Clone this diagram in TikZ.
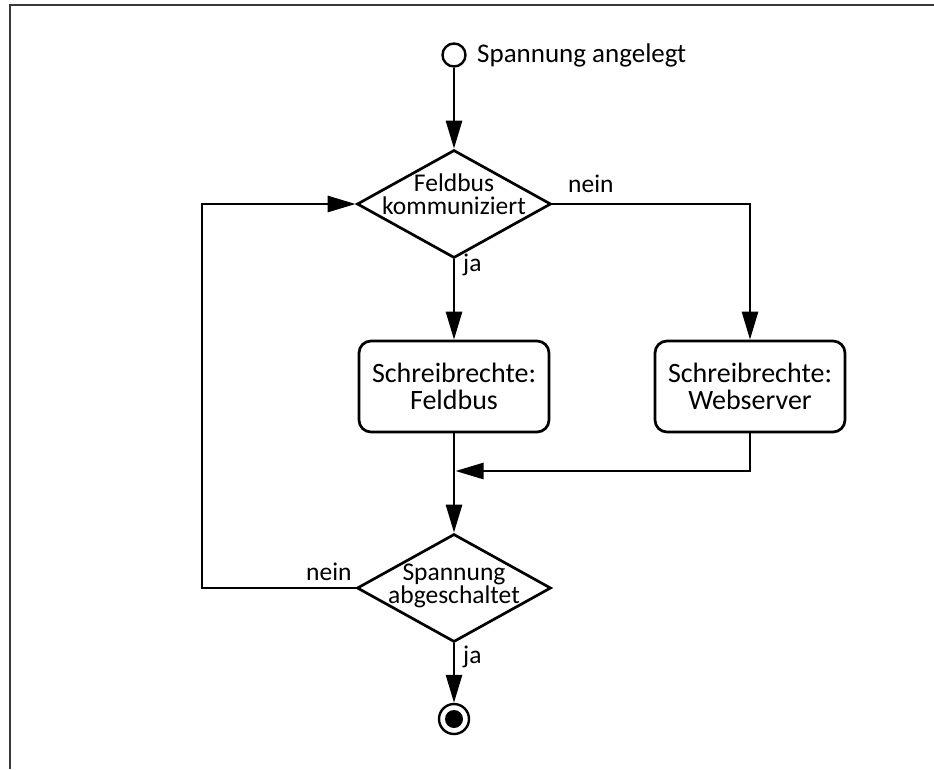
\documentclass[tikz,border=0pt]{standalone}
\usepackage{fontspec}
\setmainfont{Carlito}
\usetikzlibrary{shapes.geometric,arrows.meta}
\begin{document}
\begin{tikzpicture}[x=1pt,y=-1pt,
  conn/.style={line width=2.7pt, -{Triangle[length=28pt,width=16pt]}},
  decision/.style={diamond, draw, line width=2.7pt, minimum width=194pt, minimum height=108pt, inner sep=0pt},
  action/.style={rectangle, rounded corners=12pt, draw, line width=2.7pt, minimum width=190pt, minimum height=91pt, align=center, font=\fontsize{28}{26.5}\selectfont},
  dtext/.style={align=center, inner sep=0pt, font=\fontsize{25.5}{23}\selectfont},
  lbl/.style={inner sep=0pt, font=\fontsize{25.5}{26}\selectfont},
  terminal/.style={circle, draw, line width=2.4pt, inner sep=0pt},
  frameline/.style={line width=1.5pt, draw=black!78}
]
\useasboundingbox (0,0) rectangle (934,769);
\coordinate (fbl) at (10,769);
\coordinate (ftl) at (10,5);
\coordinate (ftr) at (934,5);
\draw[frameline] (fbl) -- (ftl) -- (ftr);

\node[terminal, minimum size=23pt] (start) at (454,55) {};
\node[lbl, anchor=base west, font=\fontsize{27}{30}\selectfont] (startlbl) at (477,62) {Spannung angelegt};
\node[decision] (d1) at (454,204) {};
\node[dtext] (d1t) at (454,194) {Feldbus\\kommuniziert};
\node[action] (b1) at (454,386.5) {Schreibrechte:\\Feldbus};
\node[action] (b2) at (750,386.5) {Schreibrechte:\\Webserver};
\node[decision] (d2) at (454,588) {};
\node[dtext] (d2t) at (454,586) {Spannung\\abgeschaltet};
\node[terminal, minimum size=30pt] (end) at (454,719) {};
\fill (end.center) circle (9pt);

\draw[conn] (start) -- (d1.north);
\draw[conn] (d1.south) -- (b1.north);
\draw[conn] (d1.east) -| (b2.north);
\coordinate (merge) at (455.5,471);
\draw[conn] (b2.south) |- (merge);
\draw[conn] (b1.south) -- (d2.north);
\coordinate (loop) at (202,588);
\draw[conn] (d2.west) -- (loop) |- (d1.west);
\draw[conn] (d2.south) -- (end);

\node[lbl, anchor=base west] (n1) at (568,192) {nein};
\node[lbl, anchor=base west] (j1) at (463,271) {ja};
\node[lbl, anchor=base west] (n2) at (306,580) {nein};
\node[lbl, anchor=base west] (j2) at (463,663) {ja};
\end{tikzpicture}
\end{document}
